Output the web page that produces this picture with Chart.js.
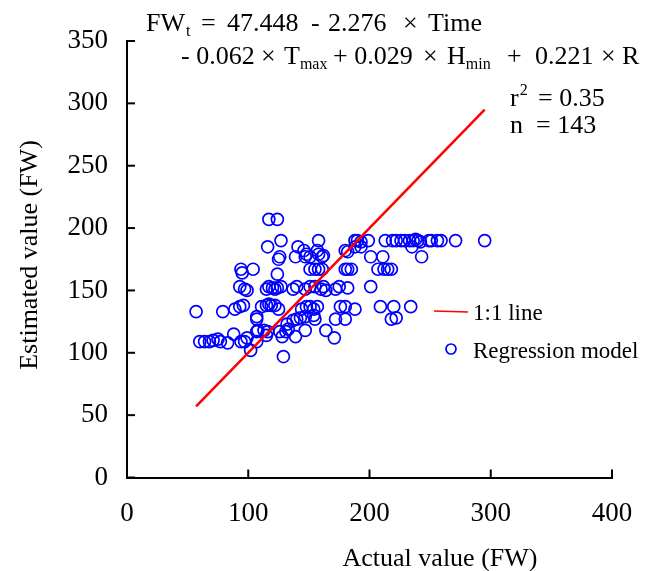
<!DOCTYPE html>
<html>
<head>
<meta charset="utf-8">
<script src="https://cdn.jsdelivr.net/npm/chart.js@4"></script>
<style>
  body { margin: 0; background: #fff; }
  #wrap { width: 654px; height: 571px; }
</style>
</head>
<body>
<div id="wrap"><canvas id="chart" width="654" height="571"></canvas></div>
<script>
const ctx = document.getElementById('chart');

// actual (x) vs estimated (y)
const actualFW = [
  117,124,116,127,158,141,146,148,151,157,158,161,162,126,125,139,147,180,182,188,
  190,193,199,188,193,201,211,213,219,222,226,229,233,236,238,240,242,249,235,243,
  251,256,259,271,295,
  94,95,104,124,151,155,158,161,180,182,185,207,212,215,218,
  93,97,99,115,117,120,122,124,127,137,140,147,151,155,160,162,164,172,175,182,201,
  57,79,89,93,96,111,115,117,119,122,125,107,107,144,148,151,154,157,155,154,
  176,172,180,180,188,209,220,234,218,222,137,140,143,147,
  132,133,131,126,116,139,147,164,171,129,128,
  60,64,68,71,75,77,83,88,94,99,97,102,107,108,113,107,115
];
const estimatedFW = [
  207,207,185,190,190,185,182,179,177,182,179,177,178,177,175,177,177,182,181,190,
  190,189,190,185,185,177,177,190,190,190,190,190,190,190,191,190,189,190,185,177,
  190,190,190,190,190,
  167,164,167,163,167,167,167,167,167,167,167,167,167,167,167,
  153,151,150,151,153,152,151,152,153,151,153,151,153,153,151,153,150,151,153,152,153,
  133,133,135,137,138,137,138,139,138,138,135,129,127,135,137,137,135,137,127,130,
  137,127,127,137,135,137,137,137,127,128,126,127,128,129,
  123,119,117,117,117,113,118,118,112,97,113,
  109,109,109,110,111,109,108,115,109,112,109,102,117,118,118,109,114
];
const lineX = [57, 295];
const lineY = [57, 295];

const xTicks = [0, 100, 200, 300, 400];
const yTicks = [0, 50, 100, 150, 200, 250, 300, 350];

const serif = '"Liberation Serif", "Times New Roman", serif';

const scatterPts = actualFW.map((x, i) => ({ x: x, y: estimatedFW[i] }));
const linePts = lineX.map((x, i) => ({ x: x, y: lineY[i] }));

// inward tick marks, legend, axis titles and equation text
const decor = {
  id: 'decor',
  afterDraw(chart) {
    const c = chart.ctx, xs = chart.scales.x, ys = chart.scales.y;
    const a = chart.chartArea;
    c.save();
    c.strokeStyle = '#000';
    c.lineWidth = 2;
    xTicks.forEach(v => {
      const px = xs.getPixelForValue(v);
      c.beginPath(); c.moveTo(px, a.bottom); c.lineTo(px, a.bottom - 8); c.stroke();
    });
    yTicks.forEach(v => {
      const py = ys.getPixelForValue(v);
      c.beginPath(); c.moveTo(a.left, py); c.lineTo(a.left + 8, py); c.stroke();
    });

    // legend
    c.strokeStyle = '#ff0000'; c.lineWidth = 1.5;
    c.beginPath(); c.moveTo(434, 311); c.lineTo(468, 312); c.stroke();
    c.strokeStyle = '#0000ff'; c.lineWidth = 1.7;
    c.beginPath(); c.arc(451, 349, 5, 0, Math.PI * 2); c.stroke();
    c.fillStyle = '#000';
    c.font = '23px ' + serif;
    c.textAlign = 'left'; c.textBaseline = 'alphabetic';
    c.fillText('1:1 line', 473, 320);
    c.fillText('Regression model', 473, 358);

    // axis titles
    c.font = '26px ' + serif;
    c.textAlign = 'center';
    c.fillText('Actual value (FW)', 440, 566);
    c.save();
    c.translate(37, 255); c.rotate(-Math.PI / 2);
    c.fillText('Estimated value (FW)', 0, 0);
    c.restore();

    // equation
    c.textAlign = 'left';
    const big = '26px ' + serif, small = '16px ' + serif;
    const put = (t, x, y, f) => { c.font = f; c.fillText(t, x, y); return x + c.measureText(t).width; };
    let e = put('FW', 146, 31, big); put('t', e + 1, 36, small);
    put('=', 201, 31, big); put('47.448', 227, 31, big);
    put('-', 311, 31, big); put('2.276', 328, 31, big);
    put('\u00d7', 403, 31, big); put('Time', 428, 31, big);
    put('- 0.062', 181, 64, big); put('\u00d7', 261, 64, big);
    e = put('T', 284, 64, big); put('max', e, 69, small);
    put('+ 0.029', 333, 64, big); put('\u00d7', 423, 64, big);
    e = put('H', 447, 64, big); put('min', e, 69, small);
    put('+', 507, 64, big); put('0.221', 535, 64, big);
    put('\u00d7', 601, 64, big); put('R', 622, 64, big);
    e = put('r', 510, 106, big); put('2', e + 1, 95, small);
    put('= 0.35', 538, 106, big);
    put('n', 510, 133, big); put('= 143', 536, 133, big);
    c.restore();
  }
};

const myChart = new Chart(ctx, {
  type: 'scatter',
  data: {
    datasets: [
      {
        label: 'Regression model',
        data: scatterPts,
        pointStyle: 'circle',
        pointRadius: 6,
        pointBorderWidth: 1.7,
        borderColor: '#0000ff',
        backgroundColor: 'rgba(0,0,0,0)',
        order: 2
      },
      {
        label: '1:1 line',
        type: 'line',
        data: linePts,
        borderColor: '#ff0000',
        borderWidth: 2.5,
        pointRadius: 0,
        fill: false,
        order: 1
      }
    ]
  },
  options: {
    responsive: false,
    animation: false,
    layout: { padding: { top: 41, right: 42, left: 0, bottom: 0 } },
    plugins: { legend: { display: false }, tooltip: { enabled: false } },
    scales: {
      x: {
        type: 'linear', min: 0, max: 400,
        afterBuildTicks: s => { s.ticks = xTicks.map(v => ({ value: v })); },
        afterFit: s => { s.height = 93.5; },
        grid: { display: false },
        border: { display: true, color: '#000', width: 2 },
        ticks: { color: '#000', padding: 12, font: { family: serif, size: 27 } }
      },
      y: {
        type: 'linear', min: 0, max: 350,
        afterBuildTicks: s => { s.ticks = yTicks.map(v => ({ value: v })); },
        afterFit: s => { s.width = 127; },
        grid: { display: false },
        border: { display: true, color: '#000', width: 2 },
        ticks: { color: '#000', padding: 11, font: { family: serif, size: 27 } }
      }
    }
  },
  plugins: [decor]
});
</script>
</body>
</html>
